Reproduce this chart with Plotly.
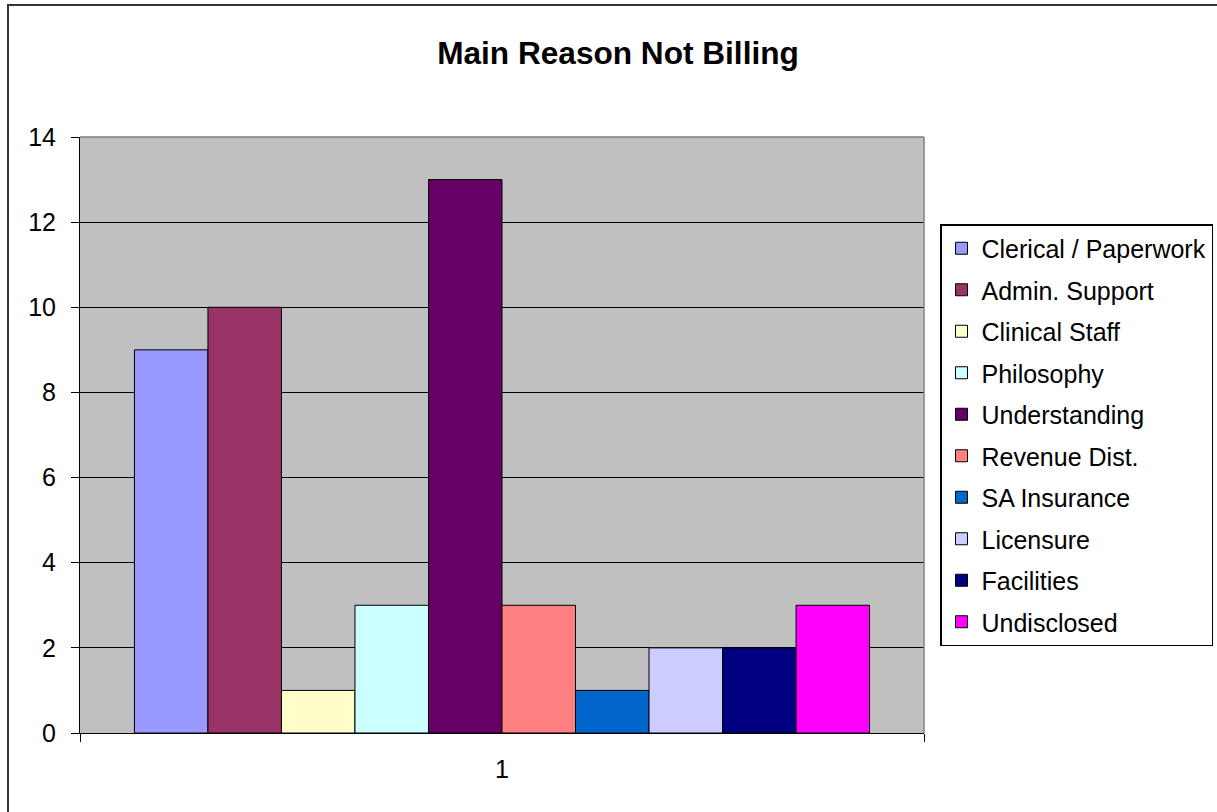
import plotly.graph_objects as go

# Survey tallies: main reason for not billing
categories = ["1"]
reasons = [
    "Clerical / Paperwork",
    "Admin. Support",
    "Clinical Staff",
    "Philosophy",
    "Understanding",
    "Revenue Dist.",
    "SA Insurance",
    "Licensure",
    "Facilities",
    "Undisclosed",
]
counts = [9, 10, 1, 3, 13, 3, 1, 2, 2, 3]
colors = [
    "#9999FF", "#993366", "#FFFFCC", "#CCFFFF", "#660066",
    "#FF8080", "#0066CC", "#CCCCFF", "#000080", "#FF00FF",
]
y_ticks = [0, 2, 4, 6, 8, 10, 12, 14]

W, H = 1217, 812
L, R, T, B = 80, 293, 137, 79
pw, ph = W - L - R, H - T - B


def px_x(p):
    return (p - L) / pw


def px_y(p):
    return (H - B - p) / ph


fig = go.Figure()
for name, val, col in zip(reasons, counts, colors):
    fig.add_trace(go.Bar(
        x=categories, y=[val], name=name, legendgroup=name,
        marker=dict(color=col, line=dict(color="#000000", width=1)),
    ))

font = "Arial, Liberation Sans, sans-serif"

fig.update_layout(
    width=W, height=H,
    margin=dict(l=L, r=R, t=T, b=B, autoexpand=False),
    paper_bgcolor="white",
    plot_bgcolor="#C0C0C0",
    barmode="group",
    bargap=0.129,
    bargroupgap=0,
    font=dict(family=font, size=25, color="#000000"),
    title=dict(
        text="<b>Main Reason Not Billing</b>",
        font=dict(family=font, size=31.6, color="#000000"),
        x=px_x(618), xref="paper", xanchor="center",
        y=1 - 53 / H, yref="container", yanchor="middle",
    ),
    xaxis=dict(
        type="category",
        showgrid=False,
        showline=True, linecolor="#000000", linewidth=1,
        ticks="outside", tickson="boundaries", ticklen=8,
        tickcolor="#000000", tickwidth=1,
        tickfont=dict(size=25),
        ticklabelstandoff=14,
    ),
    yaxis=dict(
        range=[0, 14],
        tickvals=y_ticks,
        showgrid=True, gridcolor="#000000", gridwidth=1,
        zeroline=False,
        showline=True, linecolor="#000000", linewidth=1,
        ticks="outside", ticklen=8, tickcolor="#000000", tickwidth=1,
        tickfont=dict(size=25),
        ticklabelstandoff=10,
    ),
    legend=dict(
        x=px_x(940), y=px_y(224), xanchor="left", yanchor="top",
        bordercolor="#000000", borderwidth=1.5,
        bgcolor="white",
        font=dict(family=font, size=25),
        tracegroupgap=6,
        traceorder="grouped",
    ),
    shapes=[
        # plot-area top and right border
        dict(type="line", xref="paper", yref="paper", x0=0, x1=1, y0=1, y1=1,
             line=dict(color="#808080", width=1.5), layer="above"),
        dict(type="line", xref="paper", yref="paper", x0=1, x1=1, y0=0, y1=1,
             line=dict(color="#808080", width=1.5), layer="above"),
        # chart frame
        dict(type="rect", xref="paper", yref="paper",
             x0=px_x(8), x1=px_x(1240), y0=px_y(830), y1=px_y(5),
             line=dict(color="#333333", width=2), layer="below"),
    ],
)

fig.write_html("out.html")
